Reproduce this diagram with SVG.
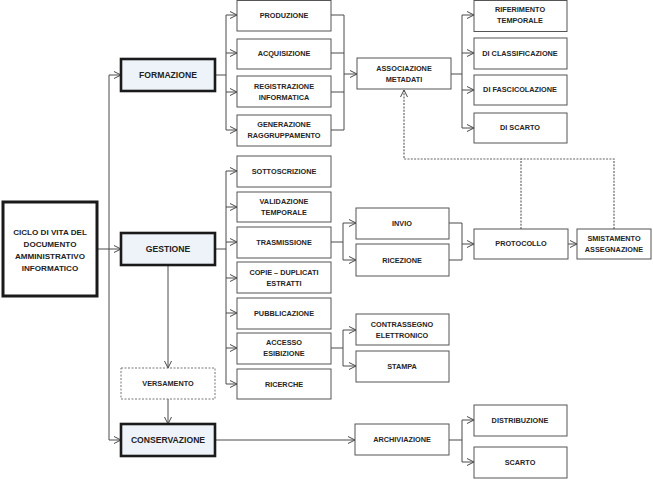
<svg xmlns="http://www.w3.org/2000/svg" width="653" height="479" viewBox="0 0 653 479">
<defs>
<marker id="arr" markerUnits="userSpaceOnUse" markerWidth="10" markerHeight="10" refX="7" refY="4" orient="auto">
<path d="M0,0.5 L7,4 L0,7.5" fill="none" stroke="#4a4a4a" stroke-width="1"/>
</marker>
<style>
.b{fill:#fff;stroke:#555;stroke-width:1}
.m{fill:#eef3f9;stroke:#1a1a1a;stroke-width:2.6}
.c{fill:#fff;stroke:#1a1a1a;stroke-width:3}
.d{fill:#fff;stroke:#777;stroke-width:1;stroke-dasharray:2,1.5}
text{font-family:"Liberation Sans",Arial,sans-serif;font-weight:bold;fill:#262626;text-anchor:middle}
.t{font-size:7.3px}
.tm{font-size:8.6px;fill:#222}
.tc{font-size:8.1px;fill:#222}
.l{fill:none;stroke:#4a4a4a;stroke-width:1}
.la{fill:none;stroke:#4a4a4a;stroke-width:1;marker-end:url(#arr)}
.ld{fill:none;stroke:#666;stroke-width:1.2;stroke-dasharray:2,1.3}
</style>
</defs>
<rect width="653" height="479" fill="#fff"/>
<g id="connectors">
<path class="la" d="M97,249 H121"/>
<path class="l" d="M109,75 V440"/>
<path class="la" d="M109,75 H121"/>
<path class="la" d="M109,440 H121"/>
<path class="l" d="M215,75 H226 M226,15 V130"/>
<path class="la" d="M226,15 H237"/>
<path class="la" d="M226,53 H237"/>
<path class="la" d="M226,92 H237"/>
<path class="la" d="M226,130 H237"/>
<path class="l" d="M331,15 H344 V130 H331 M331,53 H344 M331,92 H344"/>
<path class="la" d="M344,74 H357" stroke-width="1.6"/>
<path class="l" d="M451,74 H462 M462,15 V128"/>
<path class="la" d="M462,15 H474"/>
<path class="la" d="M462,53 H474"/>
<path class="la" d="M462,90 H474"/>
<path class="la" d="M462,128 H474"/>
<path class="l" d="M215,249 H226 M226,171 V384"/>
<path class="la" d="M226,171 H237"/>
<path class="la" d="M226,207 H237"/>
<path class="la" d="M226,242 H237"/>
<path class="la" d="M226,278 H237"/>
<path class="la" d="M226,313 H237"/>
<path class="la" d="M226,348 H237"/>
<path class="la" d="M226,384 H237"/>
<path class="la" d="M168,265 V368"/>
<path class="la" d="M168,399 V424"/>
<path class="l" d="M331,242 H343 M343,223 V260"/>
<path class="la" d="M343,223 H356"/>
<path class="la" d="M343,260 H356"/>
<path class="l" d="M449,223 H462 V260 H449"/>
<path class="la" d="M462,244 H474" stroke-width="1.6"/>
<path class="la" d="M568,244 H577"/>
<path class="l" d="M331,348 H343 M343,330 V366"/>
<path class="la" d="M343,330 H356"/>
<path class="la" d="M343,366 H356"/>
<path class="la" d="M215,440 H355"/>
<path class="l" d="M449,440 H462 M462,420 V462"/>
<path class="la" d="M462,420 H474"/>
<path class="la" d="M462,462 H474"/>
<path class="ld" d="M521,229 V159 H404 V90" marker-end="url(#arr)"/>
<path class="ld" d="M614,229 V159 H521"/>
</g>
<g id="ciclo"><rect class="c" x="3" y="202" width="94" height="94"/>
<text class="tc" x="50" y="235">CICLO DI VITA DEL</text><text class="tc" x="50" y="247">DOCUMENTO</text><text class="tc" x="50" y="259">AMMINISTRATIVO</text><text class="tc" x="50" y="271">INFORMATICO</text></g>
<g id="formazione"><rect class="m" x="121" y="59" width="94" height="32"/><text class="tm" x="168" y="78">FORMAZIONE</text></g>
<g id="gestione"><rect class="m" x="121" y="233" width="94" height="32"/><text class="tm" x="168" y="252">GESTIONE</text></g>
<g id="versamento"><rect class="d" x="121" y="368" width="94" height="31"/><text class="t" x="168" y="386">VERSAMENTO</text></g>
<g id="conservazione"><rect class="m" x="121" y="424" width="94" height="32"/><text class="tm" x="168" y="443">CONSERVAZIONE</text></g>
<g id="produzione"><rect class="b" x="237" y="0.5" width="94" height="30.5"/><text class="t" x="284" y="18">PRODUZIONE</text></g>
<g id="acquisizione"><rect class="b" x="237" y="39" width="94" height="30"/><text class="t" x="284" y="56">ACQUISIZIONE</text></g>
<g id="registrazione"><rect class="b" x="237" y="76" width="94" height="31"/><text class="t" x="284" y="89">REGISTRAZIONE</text><text class="t" x="284" y="100">INFORMATICA</text></g>
<g id="generazione"><rect class="b" x="237" y="115" width="94" height="31"/><text class="t" x="284" y="127">GENERAZIONE</text><text class="t" x="284" y="138">RAGGRUPPAMENTO</text></g>
<g id="sottoscrizione"><rect class="b" x="237" y="156" width="94" height="31"/><text class="t" x="284" y="174">SOTTOSCRIZIONE</text></g>
<g id="validazione"><rect class="b" x="237" y="192" width="94" height="30"/><text class="t" x="284" y="204">VALIDAZIONE</text><text class="t" x="284" y="215">TEMPORALE</text></g>
<g id="trasmissione"><rect class="b" x="237" y="227" width="94" height="31"/><text class="t" x="284" y="245">TRASMISSIONE</text></g>
<g id="copie"><rect class="b" x="237" y="262" width="94" height="31"/><text class="t" x="284" y="275">COPIE – DUPLICATI</text><text class="t" x="284" y="286">ESTRATTI</text></g>
<g id="pubblicazione"><rect class="b" x="237" y="298" width="94" height="31"/><text class="t" x="284" y="316">PUBBLICAZIONE</text></g>
<g id="accesso"><rect class="b" x="237" y="333" width="94" height="31"/><text class="t" x="284" y="345">ACCESSO</text><text class="t" x="284" y="356">ESIBIZIONE</text></g>
<g id="ricerche"><rect class="b" x="237" y="369" width="94" height="30"/><text class="t" x="284" y="387">RICERCHE</text></g>
<g id="associazione"><rect class="b" x="357" y="58" width="94" height="31"/><text class="t" x="404" y="71">ASSOCIAZIONE</text><text class="t" x="404" y="82">METADATI</text></g>
<g id="invio"><rect class="b" x="356" y="208" width="93" height="31"/><text class="t" x="402" y="226">INVIO</text></g>
<g id="ricezione"><rect class="b" x="356" y="244" width="93" height="32"/><text class="t" x="402" y="263">RICEZIONE</text></g>
<g id="contrassegno"><rect class="b" x="356" y="314" width="93" height="31"/><text class="t" x="402" y="327">CONTRASSEGNO</text><text class="t" x="402" y="338">ELETTRONICO</text></g>
<g id="stampa"><rect class="b" x="356" y="351" width="93" height="31"/><text class="t" x="402" y="369">STAMPA</text></g>
<g id="archiviazione"><rect class="b" x="355" y="424" width="94" height="31"/><text class="t" x="402" y="442">ARCHIVIAZIONE</text></g>
<g id="riferimento"><rect class="b" x="474" y="0.5" width="93" height="31"/><text class="t" x="520" y="12">RIFERIMENTO</text><text class="t" x="520" y="23">TEMPORALE</text></g>
<g id="classificazione"><rect class="b" x="474" y="38" width="93" height="31"/><text class="t" x="520" y="56">DI CLASSIFICAZIONE</text></g>
<g id="fascicolazione"><rect class="b" x="474" y="75" width="93" height="30"/><text class="t" x="520" y="92">DI FASCICOLAZIONE</text></g>
<g id="discarto"><rect class="b" x="474" y="113" width="93" height="30"/><text class="t" x="520" y="130">DI SCARTO</text></g>
<g id="protocollo"><rect class="b" x="474" y="229" width="94" height="30"/><text class="t" x="521" y="246">PROTOCOLLO</text></g>
<g id="smistamento"><rect class="b" x="577" y="229" width="74" height="30"/><text class="t" x="614" y="241">SMISTAMENTO</text><text class="t" x="614" y="252">ASSEGNAZIONE</text></g>
<g id="distribuzione"><rect class="b" x="474" y="405" width="93" height="31"/><text class="t" x="520" y="423">DISTRIBUZIONE</text></g>
<g id="scarto"><rect class="b" x="474" y="447" width="93" height="31"/><text class="t" x="520" y="465">SCARTO</text></g>
</svg>
